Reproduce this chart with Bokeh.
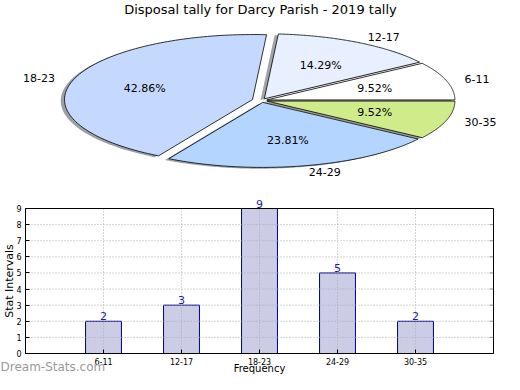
import numpy as np
from bokeh.plotting import figure
from bokeh.models import Range1d, Label, ColumnDataSource, FixedTicker, LinearAxis
from bokeh.embed import file_html
from bokeh.resources import INLINE
from bokeh.core.properties import value

# ---------------- data ----------------
title = "Disposal tally for Darcy Parish - 2019 tally"
categories = ["6-11", "12-17", "18-23", "24-29", "30-35"]
counts = [2, 3, 9, 5, 2]
pie_colors = ["#ffffff", "#e8f0ff", "#c5d9ff", "#b4d5ff", "#cfeb8a"]
explode = [0.03, 0.03, 0.05, 0.03, 0.03]
y_ticks = list(range(0, 10))
y_label = "Stat Intervals"
x_label = "Frequency"
watermark = "Dream-Stats.com"

FONT = "DejaVu Sans"
W, H = 504, 374

# ---------------- layout constants (pixels) ----------------
cx_px, cy_px = 261, 100       # pie centre
rx, ry = 188, 65              # pixels per unit radius (x, y)
bx0_px, bpx = 25, 78          # bar axes: left edge pixel, pixels per category slot
by0_px, by9_px = 353, 208     # bar axes: pixel rows of y=0 and y=top

n = len(categories)
y_top = max(y_ticks)
bpy = (by0_px - by9_px) / y_top

p = figure(width=W, height=H, output_backend="svg", toolbar_location=None,
           x_range=Range1d(-cx_px / rx, (W - cx_px) / rx),
           y_range=Range1d((cy_px - H) / ry, cy_px / ry),
           min_border=0, x_axis_location=None, y_axis_location=None, title=None)
p.grid.visible = False
p.outline_line_color = None
p.background_fill_color = "white"
p.border_fill_color = "white"
p.extra_x_ranges = {"bx": Range1d(-bx0_px / bpx, (W - bx0_px) / bpx)}
p.extra_y_ranges = {"by": Range1d((by0_px - H) / bpy, by0_px / bpy)}

# ---------------- pie ----------------
total = float(sum(counts))
xs, ys, sxs, sys_, shadow_cols = [], [], [], [], []
lab_l = dict(x=[], y=[], t=[])
lab_r = dict(x=[], y=[], t=[])
pct = dict(x=[], y=[], t=[])
start = 0.0
for c, e, col, cat in zip(counts, explode, pie_colors, categories):
    a0 = start
    a1 = start + 2 * np.pi * c / total
    am = 0.5 * (a0 + a1)
    ox, oy = e * np.cos(am), e * np.sin(am)
    t = np.linspace(a0, a1, 120)
    x = np.concatenate([[ox], ox + np.cos(t)])
    y = np.concatenate([[oy], oy + np.sin(t)])
    xs.append(list(x)); ys.append(list(y))
    sxs.append(list(x - 0.02)); sys_.append(list(y - 0.02))
    r, g, b = int(col[1:3], 16), int(col[3:5], 16), int(col[5:7], 16)
    shadow_cols.append("#%02x%02x%02x" % (int(r * 0.3), int(g * 0.3), int(b * 0.3)))
    lx, ly = ox + 1.1 * np.cos(am), oy + 1.1 * np.sin(am)
    d = lab_l if lx > 0 else lab_r
    d["x"].append(lx); d["y"].append(ly); d["t"].append(cat)
    pct["x"].append(ox + 0.6 * np.cos(am)); pct["y"].append(oy + 0.6 * np.sin(am))
    pct["t"].append("%.2f%%" % (100.0 * c / total))
    start = a1

p.patches(xs=sxs, ys=sys_, fill_color=shadow_cols, fill_alpha=0.5, line_color=None)
p.patches(xs=xs, ys=ys, fill_color=pie_colors, line_color="black", line_width=0.8)

for d, al in ((lab_l, "left"), (lab_r, "right"), (pct, "center")):
    p.text(x=d["x"], y=d["y"], text=d["t"], text_align=al, text_baseline="middle",
           text_font=value(FONT), text_font_size="11px", text_color="black")

p.add_layout(Label(x=(260 - cx_px) / rx, y=(cy_px - 1) / ry, text=title,
                   text_align="center", text_baseline="top",
                   text_font=FONT, text_font_size="13px", text_color="black"))

# ---------------- bars ----------------
x_pos = list(range(1, n + 1))
rng = dict(x_range_name="bx", y_range_name="by")
src = ColumnDataSource(dict(x=x_pos, top=counts, label=[str(c) for c in counts]))
p.vbar(x="x", top="top", bottom=0, width=0.46, source=src,
       fill_color="#cccce6", line_color="#000080", line_width=1, **rng)

# dotted grid over the bars
p.segment(x0=x_pos, x1=x_pos, y0=[0] * n, y1=[y_top] * n,
          line_color="#aaaaaa", line_dash="1 2", line_width=1, **rng)
inner = [v for v in y_ticks if 0 < v < y_top]
p.segment(x0=[0] * len(inner), x1=[n + 1] * len(inner), y0=inner, y1=inner,
          line_color="#aaaaaa", line_dash="1 2", line_width=1, **rng)
# right-hand tick marks
p.segment(x0=[n + 1 - 4.0 / bpx] * len(y_ticks), x1=[n + 1] * len(y_ticks), y0=y_ticks, y1=y_ticks,
          line_color="#999999", line_width=1, **rng)
# axes box
p.quad(left=[0], right=[n + 1], bottom=[0], top=[y_top], fill_color=None,
       line_color="black", line_width=1, **rng)

p.text(x="x", y="top", text="label", source=src, text_align="center",
       text_baseline="bottom", y_offset=-1, text_font=value(FONT), text_font_size="11px",
       text_color="#1e1e9e", **rng)

xa = LinearAxis(fixed_location=0, bounds=(0, n + 1), ticker=FixedTicker(ticks=x_pos),
                major_label_overrides={i: c for i, c in zip(x_pos, categories)}, **rng)
ya = LinearAxis(fixed_location=0, bounds=(0, y_top), ticker=FixedTicker(ticks=y_ticks), **rng)
for ax in (xa, ya):
    ax.major_tick_in = 4
    ax.major_tick_out = 0
    ax.minor_tick_line_color = None
    ax.axis_line_color = "black"
    ax.major_label_text_font = FONT
    ax.major_label_text_font_size = "8px"
    ax.major_label_text_color = "black"
    ax.major_label_standoff = 4
p.add_layout(xa, "below")
p.add_layout(ya, "left")

p.add_layout(Label(x=(9 - bx0_px) / bpx, y=y_top / 2.0, text=y_label, angle=np.pi / 2,
                   text_align="center", text_baseline="middle", x_range_name="bx", y_range_name="by",
                   text_font=FONT, text_font_size="11px", text_color="black"))
p.add_layout(Label(x=(n + 1) / 2.0, y=(by0_px - (H - 1)) / bpy, text=x_label,
                   text_align="center", text_baseline="bottom", x_range_name="bx", y_range_name="by",
                   text_font=FONT, text_font_size="10px", text_color="black"))
p.add_layout(Label(x=-bx0_px / bpx, y=(by0_px - (H - 1)) / bpy, text=watermark,
                   text_align="left", text_baseline="bottom", x_range_name="bx", y_range_name="by",
                   text_font=FONT, text_font_size="12px", text_color="#9a9a9a"))

open("out.html", "w").write(file_html(p, INLINE))
